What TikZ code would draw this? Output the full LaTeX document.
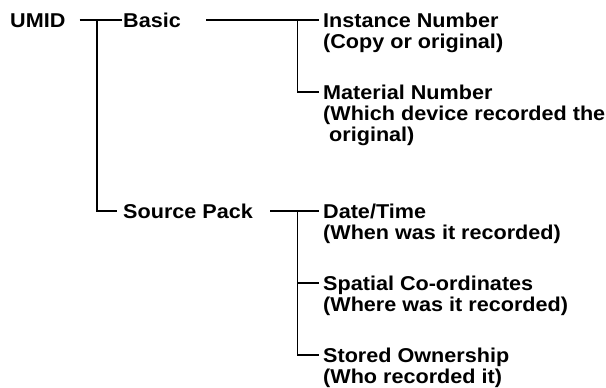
\documentclass[tikz,border=0pt]{standalone}
\usepackage{fontspec}
\setmainfont[FakeStretch=1.08]{Liberation Sans}
\begin{document}
\begin{tikzpicture}[x=1pt,y=1pt,
  lbl/.style={inner sep=0pt, anchor=west, text height=14.3pt, text depth=0pt,
              font=\fontsize{20}{21}\selectfont\bfseries},
  conn/.style={line width=1.9pt, line cap=butt}]
\useasboundingbox (0,0) rectangle (606,-388);
% labels
\node[lbl] (umid)   at (10,-20)  {UMID};
\node[lbl] (basic)  at (123,-20) {Basic};
\node[lbl] (src)    at (123,-211) {Source Pack};
\node[lbl] (inst)   at (323,-20)  {Instance Number};
\node[lbl] (instd)  at (323,-41)  {(Copy or original)};
\node[lbl] (mat)    at (323,-92)  {Material Number};
\node[lbl] (matd)   at (323,-113) {(Which device recorded the};
\node[lbl] (matd2)  at (323,-134) {\ original)};
\node[lbl] (date)   at (323,-211) {Date/Time};
\node[lbl] (dated)  at (323,-232) {(When was it recorded)};
\node[lbl] (spat)   at (323,-283) {Spatial Co-ordinates};
\node[lbl] (spatd)  at (323,-304) {(Where was it recorded)};
\node[lbl] (own)    at (323,-355) {Stored Ownership};
\node[lbl] (ownd)   at (323,-376) {(Who recorded it)};
% junctions
\coordinate (j0) at (97,-20);
\coordinate (j1) at (297.5,-20);
\coordinate (j2) at (297.5,-211);
% connectors
\draw[conn] ([xshift=14pt]umid.east) -- ([xshift=-1pt]basic.west);
\draw[conn] (j0) |- ([xshift=-6pt]src.west);
\draw[conn] ([xshift=25pt]basic.east) -- ([xshift=-4pt]inst.west);
\draw[conn] (j1) |- ([xshift=-4pt]mat.west);
\draw[conn] ([xshift=17pt]src.east) -- ([xshift=-4pt]date.west);
\draw[conn] (j2) |- ([xshift=-4pt]own.west);
\draw[conn] (j2 |- spat.west) -- ([xshift=-4pt]spat.west);
\end{tikzpicture}
\end{document}
